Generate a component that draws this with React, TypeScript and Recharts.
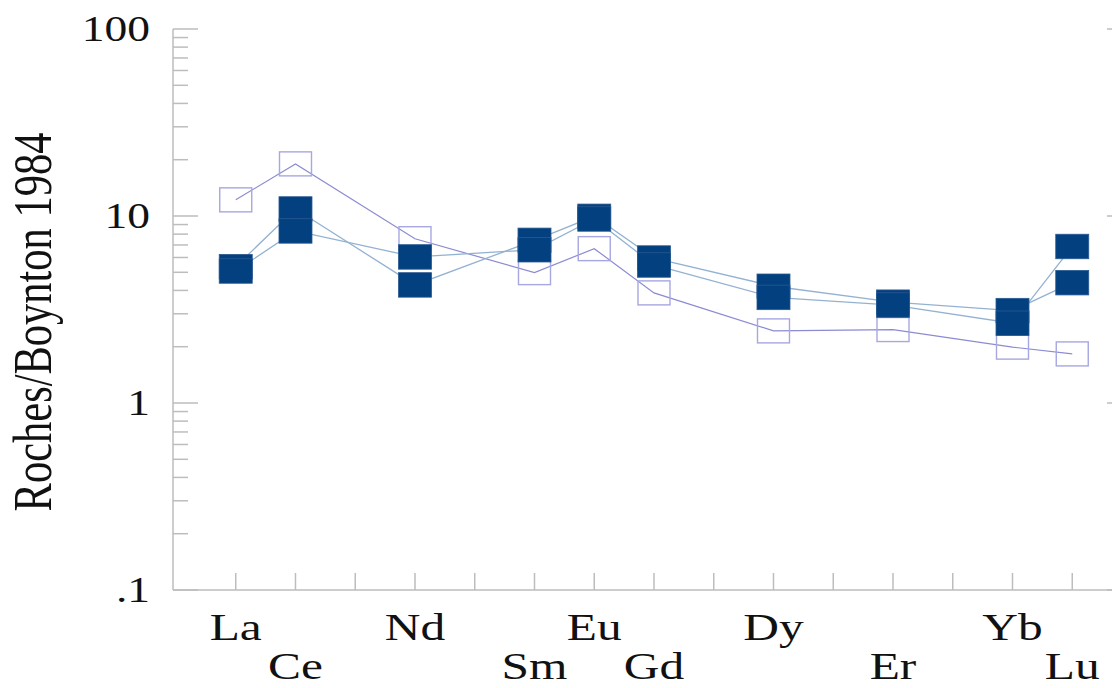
import React from "react";
import { ComposedChart, Line, XAxis, YAxis } from "recharts";

// Rare earth elements, in order along the x axis
const REE = ["La", "Ce", "Pr", "Nd", "Pm", "Sm", "Eu", "Gd", "Tb", "Dy", "Ho", "Er", "Tm", "Yb", "Lu"];
// Elements with measured values (and labelled on the axis)
const MEASURED = ["La", "Ce", "Nd", "Sm", "Eu", "Gd", "Dy", "Er", "Yb", "Lu"];
// Chondrite-normalised values (Roches / Boynton 1984)
const SAMPLE_A = [5.36, 10.9, 4.28, 7.41, 9.96, 5.96, 4.21, 3.46, 3.12, 4.4];
const SAMPLE_B = [5.08, 8.32, 6.04, 6.6, 9.64, 5.47, 3.67, 3.34, 2.67, 6.87];
const SAMPLE_C = [12.2, 19.0, 7.56, 4.98, 6.69, 3.88, 2.43, 2.47, 1.99, 1.83];

const X_TICKS = [1, 2, 3, 4, 5, 6, 7, 8, 9, 10, 11, 12, 13, 14, 15];
const Y_TICKS = [
  0.1, 0.2, 0.3, 0.4, 0.5, 0.6, 0.7, 0.8, 0.9,
  1, 2, 3, 4, 5, 6, 7, 8, 9,
  10, 20, 30, 40, 50, 60, 70, 80, 90,
  100,
];
const Y_MAJOR: Record<string, string> = { "0.1": ".1", "1": "1", "10": "10", "100": "100" };

const data = MEASURED.map((el, i) => ({
  x: REE.indexOf(el) + 1,
  el,
  a: SAMPLE_A[i],
  b: SAMPLE_B[i],
  c: SAMPLE_C[i],
}));

const FRAME = "#bdbdbd";
const FONT = "'Liberation Serif', 'Times New Roman', serif";
const SX = 1.3;

const BottomTick = (props: any) => {
  const { x, y, payload } = props;
  const name = REE[payload.value - 1];
  const li = MEASURED.indexOf(name);
  return (
    <g>
      <line x1={x} y1={y} x2={x} y2={y - 17} stroke={FRAME} strokeWidth={1.5} />
      {li >= 0 && (
        <text
          transform={`translate(${x},${y + (li % 2 === 0 ? 50 : 89)}) scale(${SX},1)`}
          textAnchor="middle"
          fontFamily={FONT}
          fontSize={38}
          fill="#111"
        >
          {name}
        </text>
      )}
    </g>
  );
};

const TopTick = (props: any) => {
  const { x, y } = props;
  return <line x1={x} y1={y} x2={x} y2={y + 16} stroke={FRAME} strokeWidth={1.5} />;
};

const LeftTick = (props: any) => {
  const { x, y, payload } = props;
  const key = String(payload.value);
  const label = Y_MAJOR[key];
  const len = label ? 25 : 15;
  return (
    <g>
      <line x1={x} y1={y} x2={x + len} y2={y} stroke={FRAME} strokeWidth={1.5} />
      {label && (
        <text
          transform={`translate(${x - 23},${y + 12}) scale(${SX},1)`}
          textAnchor="end"
          fontFamily={FONT}
          fontSize={35}
          fill="#111"
        >
          {label}
        </text>
      )}
    </g>
  );
};

const RightTick = (props: any) => {
  const { x, y, payload } = props;
  const major = Y_MAJOR[String(payload.value)];
  const len = major ? 25 : 15;
  return <line x1={x} y1={y} x2={x - len} y2={y} stroke={FRAME} strokeWidth={1.5} />;
};

const FilledSquare = (props: any) => {
  const { cx, cy, index } = props;
  if (cx == null || cy == null) return <g key={`f${index}`} />;
  return (
    <rect
      key={`f${index}`}
      x={cx - 16.5}
      y={cy - 12.25}
      width={33}
      height={24.5}
      fill="#02407f"
      stroke="#2a5a92"
      strokeWidth={0.8}
    />
  );
};

const OpenSquare = (props: any) => {
  const { cx, cy, index } = props;
  if (cx == null || cy == null) return <g key={`o${index}`} />;
  return (
    <rect
      key={`o${index}`}
      x={cx - 16}
      y={cy - 12}
      width={32}
      height={24}
      fill="none"
      stroke="#a7a7e2"
      strokeWidth={1.4}
    />
  );
};

export default function App() {
  return (
    <div style={{ position: "relative", width: 1112, height: 680 }}>
      <div style={{ width: 1112, height: 680, overflow: "hidden" }}>
        <ComposedChart
          width={1142}
          height={680}
          data={data}
          margin={{ top: 21, right: 0, bottom: 0, left: 0 }}
        >
          <XAxis
            dataKey="x"
            type="number"
            domain={[-0.05, 16]}
            ticks={X_TICKS}
            interval={0}
            tickSize={0}
            tickMargin={0}
            height={98}
            axisLine={{ stroke: FRAME, strokeWidth: 1.5 }}
            tickLine={false}
            tick={<BottomTick />}
            allowDataOverflow
          />
          <XAxis
            xAxisId="top"
            orientation="top"
            dataKey="x"
            type="number"
            domain={[-0.05, 16]}
            ticks={X_TICKS}
            interval={0}
            tickSize={0}
            tickMargin={0}
            height={0}
            axisLine={{ stroke: FRAME, strokeWidth: 1.5 }}
            tickLine={false}
            tick={<TopTick />}
            allowDataOverflow
          />
          <YAxis
            type="number"
            scale="log"
            domain={[0.1, 100]}
            ticks={Y_TICKS}
            interval={0}
            tickSize={0}
            tickMargin={0}
            width={165}
            axisLine={{ stroke: FRAME, strokeWidth: 1.5 }}
            tickLine={false}
            tick={<LeftTick />}
            allowDataOverflow
          />
          <YAxis
            yAxisId="right"
            orientation="right"
            type="number"
            scale="log"
            domain={[0.1, 100]}
            ticks={Y_TICKS}
            interval={0}
            tickSize={0}
            tickMargin={0}
            width={18}
            axisLine={{ stroke: FRAME, strokeWidth: 1.5 }}
            tickLine={false}
            tick={<RightTick />}
            allowDataOverflow
          />
          <Line dataKey="c" stroke="#8b8bd3" strokeWidth={1.2} dot={false} isAnimationActive={false} />
          <Line dataKey="a" stroke="#93b2d2" strokeWidth={1.3} dot={false} isAnimationActive={false} />
          <Line dataKey="b" stroke="#93b2d2" strokeWidth={1.3} dot={false} isAnimationActive={false} />
          <Line dataKey="c" stroke="none" dot={<OpenSquare />} activeDot={false} isAnimationActive={false} legendType="none" />
          <Line dataKey="a" stroke="none" dot={<FilledSquare />} activeDot={false} isAnimationActive={false} legendType="none" />
          <Line dataKey="b" stroke="none" dot={<FilledSquare />} activeDot={false} isAnimationActive={false} legendType="none" />
        </ComposedChart>
      </div>
      <svg
        width={130}
        height={680}
        style={{ position: "absolute", left: -8, top: 0, pointerEvents: "none", overflow: "visible" }}
      >
        <text
          transform={`translate(51,314) scale(${SX},1) rotate(-90)`}
          textAnchor="middle"
          fontFamily={FONT}
          fontSize={42.5}
          fill="#111"
        >
          Roches/Boynton 1984
        </text>
      </svg>
    </div>
  );
}
